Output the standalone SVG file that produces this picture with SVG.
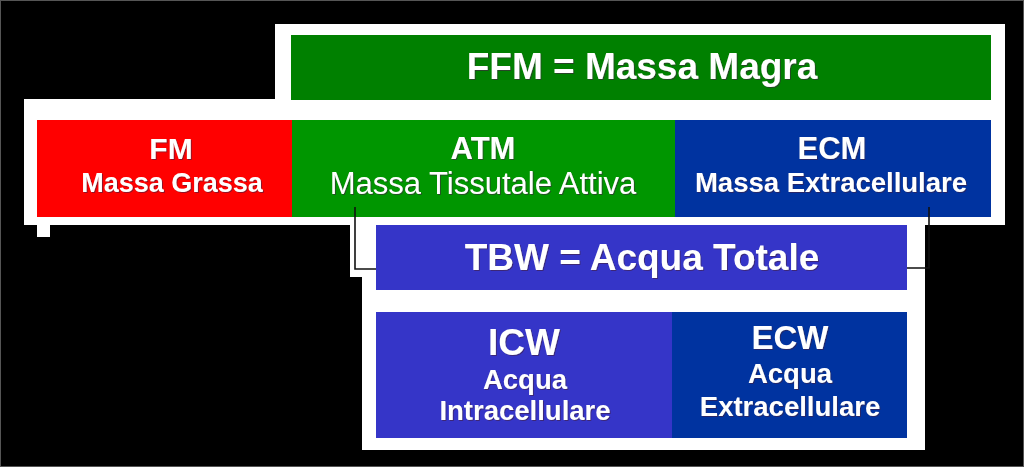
<svg xmlns="http://www.w3.org/2000/svg" width="1024" height="467" viewBox="0 0 1024 467">
<defs>
<filter id="sh" x="-5%" y="-20%" width="110%" height="140%">
<feDropShadow dx="1" dy="1" stdDeviation="0.6" flood-color="#402040" flood-opacity="0.6"/>
</filter>
</defs>
<style>
.t{font-family:"Liberation Sans",Arial,sans-serif;fill:#ffffff;text-anchor:middle;font-weight:bold;filter:url(#sh)}
.r{font-weight:normal}
.conn{fill:none;stroke:#111;stroke-width:1.6}
</style>
<rect x="0" y="0" width="1024" height="467" fill="#000"/>
<rect x="0.5" y="0.5" width="1023" height="466" fill="none" stroke="#555" stroke-width="1"/>
<path d="M275,24 H1005 V225 H925 V450 H362 V277 H350 V225 H24 V99 H275 Z" fill="#ffffff"/>
<rect x="37" y="225" width="13" height="12" fill="#ffffff"/>
<g id="ffm">
<rect x="291" y="35" width="700" height="65" fill="#008000"/>
<text class="t" x="642" y="79" font-size="37">FFM = Massa Magra</text>
</g>
<g id="fm">
<rect x="37" y="120" width="255" height="97" fill="#ff0000"/>
<text class="t" x="171" y="159" font-size="30">FM</text>
<text class="t" x="172" y="192" font-size="27">Massa Grassa</text>
</g>
<g id="atm">
<rect x="292" y="120" width="383" height="97" fill="#009600"/>
<text class="t" x="483" y="159" font-size="31">ATM</text>
<text class="t r" x="483" y="194" font-size="31">Massa Tissutale Attiva</text>
</g>
<g id="ecm">
<rect x="675" y="120" width="316" height="97" fill="#0033a0"/>
<text class="t" x="832" y="159" font-size="31">ECM</text>
<text class="t" x="831" y="192" font-size="27.5">Massa Extracellulare</text>
</g>
<g id="tbw">
<rect x="376" y="225" width="531" height="65" fill="#3535c8"/>
<text class="t" x="642" y="270" font-size="37">TBW = Acqua Totale</text>
</g>
<g id="icw">
<rect x="376" y="312" width="296" height="126" fill="#3535c8"/>
<text class="t" x="524" y="355" font-size="37">ICW</text>
<text class="t" x="525" y="389" font-size="27.5">Acqua</text>
<text class="t" x="525" y="420" font-size="27.5">Intracellulare</text>
</g>
<g id="ecw">
<rect x="672" y="312" width="235" height="126" fill="#0033a0"/>
<text class="t" x="790" y="349" font-size="33">ECW</text>
<text class="t" x="790" y="383" font-size="27.5">Acqua</text>
<text class="t" x="790" y="416" font-size="27.5">Extracellulare</text>
</g>
<g id="connectors">
<path class="conn" d="M355,207 V269 H376"/>
<path class="conn" d="M929,207 V268 H907"/>
</g>
</svg>
